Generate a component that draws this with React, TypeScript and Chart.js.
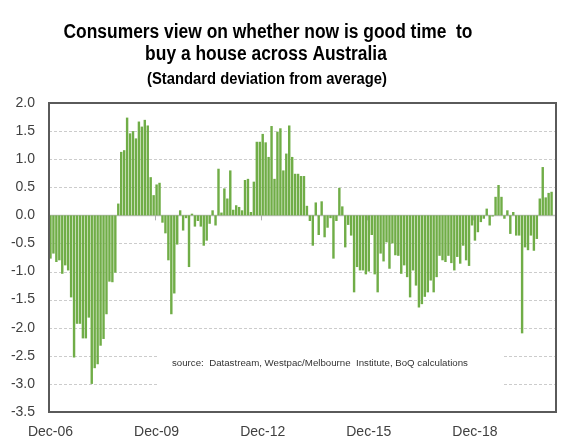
import React, { useEffect, useRef } from "react";
import { Chart, registerables } from "chart.js";

Chart.register(...registerables);

// ---------- data ----------
const TITLE_LINES = [
  "Consumers view on whether now is good time  to",
  "buy a house across Australia",
  "(Standard deviation from average)",
];
const SOURCE_TEXT = "source:  Datastream, Westpac/Melbourne  Institute, BoQ calculations";

const MONTH_NAMES = ["Jan", "Feb", "Mar", "Apr", "May", "Jun", "Jul", "Aug", "Sep", "Oct", "Nov", "Dec"];
const N_SLOTS = 172; // Dec-06 .. Mar-21
const categories: string[] = [];
for (let i = 0; i < N_SLOTS; i++) {
  const m = (11 + i) % 12;
  const y = 6 + Math.floor((11 + i) / 12);
  categories.push(`${MONTH_NAMES[m]}-${String(y).padStart(2, "0")}`);
}

const tickLabels = ["Dec-06", "Dec-09", "Dec-12", "Dec-15", "Dec-18"];

const yTicks = [2.0, 1.5, 1.0, 0.5, 0.0, -0.5, -1.0, -1.5, -2.0, -2.5, -3.0, -3.5];

const values2006_2009 = [
  -0.77, -0.68, -0.83, -0.8, -1.04, -0.89, -0.98, -1.46, -2.53, -1.93, -1.93, -2.19,
  -2.19, -1.82, -3.0, -2.72, -2.65, -2.32, -2.2, -1.76, -1.18, -1.19, -1.02, 0.21,
  1.13, 1.16, 1.74, 1.46, 1.5, 1.37, 1.67, 1.58, 1.7, 1.6, 0.68, 0.36,
];
const values2009_2012 = [
  0.55, 0.58, -0.13, -0.32, -0.8, -1.76, -1.39, -0.52, 0.09, -0.27, -0.05, -0.92,
  0.03, -0.2, -0.1, -0.2, -0.54, -0.45, -0.15, 0.09, -0.18, 0.83, 0.05, 0.48,
  0.3, 0.8, 0.1, 0.18, 0.15, 0.09, 0.63, 0.65, 0.06, 0.6, 1.31, 1.31,
];
const values2012_2015 = [
  1.45, 1.3, 1.04, 1.59, 0.65, 1.49, 1.55, 0.8, 1.1, 1.6, 1.04, 0.74,
  0.74, 0.7, 0.7, 0.17, -0.1, -0.54, 0.23, -0.35, 0.25, -0.39, -0.22, -0.05,
  -0.77, -0.1, 0.49, 0.16, -0.57, -0.17, -0.36, -1.37, -0.92, -0.98, -0.98, -1.05,
];
const values2015_2018 = [
  -1.0, -0.35, -1.05, -1.37, -0.68, -0.82, -0.48, -0.95, -0.5, -0.71, -0.72, -1.04,
  -0.89, -1.1, -1.46, -0.98, -1.25, -1.64, -1.58, -1.45, -1.37, -1.16, -1.37, -1.1,
  -0.72, -0.8, -0.83, -0.72, -0.85, -0.98, -0.74, -0.86, -0.54, -0.8, -0.9, -0.18,
];
const values2018_2021 = [
  -0.45, -0.3, -0.12, -0.06, 0.12, -0.18, -0.02, 0.33, 0.54, 0.33, -0.06, 0.09,
  -0.33, 0.06, -0.36, -0.36, -2.1, -0.57, -0.62, -0.36, -0.63, -0.42, 0.3, 0.86,
  0.32, 0.4, 0.42, null,
];

const seriesValues: (number | null)[] = [
  ...values2006_2009,
  ...values2009_2012,
  ...values2012_2015,
  ...values2015_2018,
  ...values2018_2021,
];

// ---------- styles ----------
const BAR_COLOR = "rgb(112,173,71)";
const TEXT_COLOR = "#404040";
const TITLE_FONT = '"Liberation Sans", Arial, sans-serif';
const TICK_FONT = '"Liberation Sans", Arial, sans-serif';

function narrowText(ctx: CanvasRenderingContext2D, text: string, cx: number, baseline: number, sx: number) {
  ctx.save();
  ctx.translate(cx, baseline);
  ctx.scale(sx, 1);
  ctx.fillText(text, 0, 0);
  ctx.restore();
}

const decorPlugin = {
  id: "decor",
  beforeDatasetsDraw(chart: any) {
    const { ctx, chartArea } = chart;
    const y = chart.scales.y;
    const x = chart.scales.x;
    ctx.save();
    // grid lines
    yTicks.forEach((v) => {
      if (v === 2.0 || v === -3.5) return;
      const py = Math.round(y.getPixelForValue(v)) + 0.5;
      ctx.beginPath();
      if (v === 0) {
        ctx.setLineDash([]);
        ctx.strokeStyle = "#c0c0c0";
        ctx.lineWidth = 1.5;
      } else {
        ctx.setLineDash([3, 2]);
        ctx.strokeStyle = "#cccccc";
        ctx.lineWidth = 1;
      }
      ctx.moveTo(chartArea.left, py);
      ctx.lineTo(chartArea.right, py);
      ctx.stroke();
    });
    ctx.setLineDash([]);
    // small ticks on the zero line at labelled months
    const zeroY = y.getPixelForValue(0);
    const half = (x.getPixelForValue(1) - x.getPixelForValue(0)) / 2;
    ctx.strokeStyle = "#b0b0b0";
    ctx.lineWidth = 1;
    tickLabels.forEach((lab) => {
      const idx = categories.indexOf(lab);
      if (idx <= 0) return;
      const px = Math.round(x.getPixelForValue(idx) - half) + 0.5;
      ctx.beginPath();
      ctx.moveTo(px, zeroY);
      ctx.lineTo(px, zeroY + 5);
      ctx.stroke();
    });
    // source box
    ctx.fillStyle = "#ffffff";
    ctx.fillRect(158, 340, 345, 55);
    ctx.fillStyle = "#333333";
    ctx.font = '9.7px "Liberation Sans", Arial, sans-serif';
    ctx.textAlign = "left";
    ctx.textBaseline = "middle";
    ctx.fillText(SOURCE_TEXT, 172, 363);
    ctx.restore();
  },
  afterDraw(chart: any) {
    const { ctx, chartArea } = chart;
    ctx.save();
    ctx.strokeStyle = "#5a5a5a";
    ctx.lineWidth = 2;
    ctx.strokeRect(chartArea.left, chartArea.top, chartArea.right - chartArea.left, chartArea.bottom - chartArea.top);
    // title
    ctx.fillStyle = "#000000";
    ctx.textAlign = "center";
    ctx.textBaseline = "alphabetic";
    ctx.font = `bold 20px ${TITLE_FONT}`;
    narrowText(ctx, TITLE_LINES[0], 268, 38, 0.87);
    narrowText(ctx, TITLE_LINES[1], 266, 60, 0.87);
    ctx.font = `bold 17px ${TITLE_FONT}`;
    narrowText(ctx, TITLE_LINES[2], 267, 84, 0.87);
    ctx.restore();
  },
};

export default function App() {
  const canvasRef = useRef<HTMLCanvasElement | null>(null);

  useEffect(() => {
    if (!canvasRef.current) return;
    const chart = new Chart(canvasRef.current, {
      type: "bar",
      data: {
        labels: categories,
        datasets: [
          {
            data: seriesValues,
            backgroundColor: BAR_COLOR,
            borderWidth: 0,
            barPercentage: 0.82,
            categoryPercentage: 1.0,
          },
        ],
      },
      options: {
        animation: false,
        responsive: false,
        maintainAspectRatio: false,
        layout: { padding: { top: 103, right: 32, left: 0, bottom: 0 } },
        plugins: {
          legend: { display: false },
          title: { display: false },
          tooltip: { enabled: false },
        },
        scales: {
          x: {
            grid: { display: false, drawTicks: false },
            border: { display: false },
            ticks: {
              autoSkip: false,
              maxRotation: 0,
              minRotation: 0,
              padding: 12,
              color: TEXT_COLOR,
              font: { family: TICK_FONT, size: 14 },
              callback: (_v: any, idx: number) => (tickLabels.includes(categories[idx]) ? categories[idx] : ""),
            },
            afterFit: (scale: any) => {
              scale.height = 27;
            },
          },
          y: {
            min: -3.5,
            max: 2.0,
            grid: { display: false, drawTicks: false },
            border: { display: false },
            ticks: {
              stepSize: 0.5,
              padding: 14,
              color: TEXT_COLOR,
              font: { family: TICK_FONT, size: 14 },
              callback: (v: any) => Number(v).toFixed(1),
            },
            afterFit: (scale: any) => {
              scale.width = 49;
            },
          },
        },
      },
      plugins: [decorPlugin],
    });
    return () => chart.destroy();
  }, []);

  return (
    <div style={{ position: "fixed", left: 0, top: 0, width: 588, height: 439, background: "#fff" }}>
      <canvas ref={canvasRef} width={588} height={439} style={{ width: 588, height: 439 }} />
    </div>
  );
}
